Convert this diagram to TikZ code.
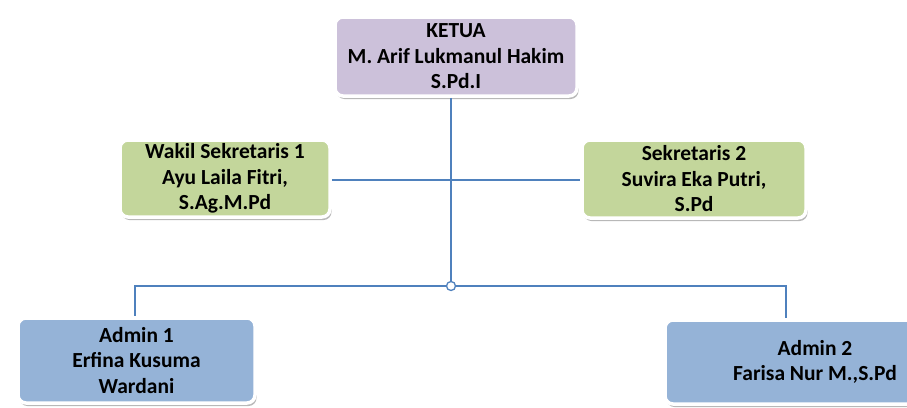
\documentclass[tikz,border=0pt]{standalone}
\usepackage{fontspec}
\setmainfont{Carlito}
\usetikzlibrary{shadows}
\definecolor{lineblue}{HTML}{4F81BD}
\definecolor{purplefill}{HTML}{CCC1DA}
\definecolor{greenfill}{HTML}{C3D69B}
\definecolor{bluefill}{HTML}{95B3D7}
\tikzset{
  orgbox/.style={draw=white, line width=3.5pt, rounded corners=8pt, align=center,
    font=\bfseries\fontsize{21.5}{25.5}\selectfont, inner sep=0pt,
    drop shadow={shadow xshift=1.5pt, shadow yshift=-3pt, opacity=0.5, fill=black!55}},
  conn/.style={draw=lineblue, line width=1.3pt}
}
\begin{document}
\begin{tikzpicture}[x=1pt,y=-1pt]
\useasboundingbox (0,0) rectangle (907,407);
\clip (0,0) rectangle (907,407);
\fill[white] (0,0) rectangle (907,407);
\coordinate (j) at (451,286);
\coordinate (a1c) at (135,286);
\coordinate (a2c) at (786,286);
\coordinate (h) at (451,180);
\node[orgbox, fill=purplefill, minimum width=242pt, minimum height=79pt] (ketua) at (456,56.5) {KETUA\\M. Arif Lukmanul Hakim\\S.Pd.I};
\node[orgbox, fill=greenfill, minimum width=210pt, minimum height=77pt] (wakil) at (225,178.5) {Wakil Sekretaris 1\\Ayu Laila Fitri,\\S.Ag.M.Pd};
\node[orgbox, fill=greenfill, minimum width=224pt, minimum height=78pt] (sek2) at (694,179) {Sekretaris 2\\Suvira Eka Putri,\\S.Pd};
\node[orgbox, fill=bluefill, minimum width=237pt, minimum height=85pt] (admin1) at (136.5,360.5) {Admin 1\\Erfina Kusuma\\Wardani};
\node[orgbox, fill=bluefill, minimum width=300pt, minimum height=84pt] (admin2) at (815,362) {Admin 2\\Farisa Nur M.,S.Pd};
\draw[conn] (ketua.south -| j) -- (j);
\draw[conn] (wakil.east |- h) -- (sek2.west |- h);
\draw[conn] (j) -- (a1c) -- (a1c |- admin1.north);
\draw[conn] (j) -- (a2c) -- (a2c |- admin2.north);
\node[circle, draw=lineblue, fill=white, line width=1.3pt, minimum size=9pt, inner sep=0pt] (jc) at (j) {};
\end{tikzpicture}
\end{document}
